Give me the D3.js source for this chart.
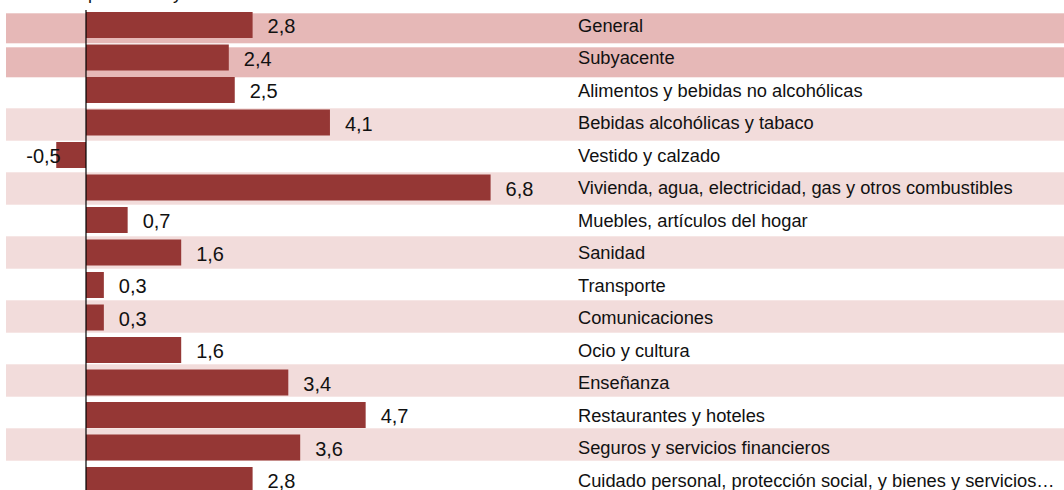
<!DOCTYPE html>
<html>
<head>
<meta charset="utf-8">
<script src="https://cdn.jsdelivr.net/npm/d3@7"></script>
<style>
  html, body { margin: 0; padding: 0; background: #fff; }
  svg { display: block; font-family: "Liberation Sans", Arial, Helvetica, sans-serif; }
</style>
</head>
<body>
<svg id="chart" width="1064" height="490"></svg>
<script>
// Annual inflation rate by component (%)
const title = "Inflación por sector y subsector";
const categories = [
  "General",
  "Subyacente",
  "Alimentos y bebidas no alcohólicas",
  "Bebidas alcohólicas y tabaco",
  "Vestido y calzado",
  "Vivienda, agua, electricidad, gas y otros combustibles",
  "Muebles, artículos del hogar",
  "Sanidad",
  "Transporte",
  "Comunicaciones",
  "Ocio y cultura",
  "Enseñanza",
  "Restaurantes y hoteles",
  "Seguros y servicios financieros",
  "Cuidado personal, protección social, y bienes y servicios…"
];
const values = [2.8, 2.4, 2.5, 4.1, -0.5, 6.8, 0.7, 1.6, 0.3, 0.3, 1.6, 3.4, 4.7, 3.6, 2.8];
// aggregate rows get the stronger row highlight
const aggregates = ["General", "Subyacente"];

const rows = categories.map((c, i) => ({ category: c, value: values[i], i }));
// decimal comma and a plain hyphen for negatives
const fmt = v => d3.format(".1f")(v).replace(".", ",").replace("\u2212", "-");

const svg = d3.select("#chart");
const W = 1064;

const x = d3.scaleLinear().domain([0, 6.8]).range([86, 490.6]);
const y = d3.scaleBand().domain(categories).range([12, 493]).paddingInner(0.2).paddingOuter(0);
// background stripes use a slightly tighter row pitch
const stripe = d3.scaleBand().domain(categories).range([12.3, 12.3 + 32 * categories.length]).padding(0);

const COLORS = { bar: "#953735", strong: "#e6b8b7", light: "#f2dcdb", text: "#111" };

// clipped heading at the very top
svg.append("text")
  .attr("x", 16).attr("y", -1)
  .attr("font-size", 18).attr("fill", COLORS.text)
  .text(title);

// row stripes
const stripes = svg.append("g");
rows.forEach(d => {
  const isAgg = aggregates.includes(d.category);
  if (isAgg) {
    stripes.append("rect")
      .attr("x", 6).attr("width", W - 6)
      .attr("y", stripe(d.category) + 1 + 2 * d.i)
      .attr("height", 30)
      .attr("fill", COLORS.strong);
  } else if (d.i % 2 === 1) {
    stripes.append("rect")
      .attr("x", 6).attr("width", W - 6)
      .attr("y", stripe(d.category))
      .attr("height", stripe.bandwidth() + 0.4)
      .attr("fill", COLORS.light);
  }
});

// bars
svg.append("g").selectAll("rect")
  .data(rows).join("rect")
  .attr("x", d => Math.min(x(0), x(d.value)))
  .attr("width", d => Math.abs(x(d.value) - x(0)))
  .attr("y", d => y(d.category))
  .attr("height", y.bandwidth())
  .attr("fill", COLORS.bar);

// zero axis
svg.append("line")
  .attr("x1", x(0)).attr("x2", x(0))
  .attr("y1", 10).attr("y2", 490)
  .attr("stroke", "#000").attr("stroke-width", 1.2);

// value labels
svg.append("g").selectAll("text")
  .data(rows).join("text")
  .attr("x", d => d.value >= 0 ? x(d.value) + 15 : x(d.value) + 4.5)
  .attr("y", d => y(d.category) + y.bandwidth() / 2)
  .attr("dy", "0.4em")
  .attr("text-anchor", d => d.value >= 0 ? "start" : "end")
  .attr("font-size", 20)
  .attr("fill", COLORS.text)
  .text(d => fmt(d.value));

// category labels
svg.append("g").selectAll("text")
  .data(rows).join("text")
  .attr("x", 578)
  .attr("y", d => y(d.category) + y.bandwidth() / 2)
  .attr("dy", "0.37em")
  .attr("font-size", 18.3)
  .attr("fill", COLORS.text)
  .text(d => d.category);
</script>
</body>
</html>
